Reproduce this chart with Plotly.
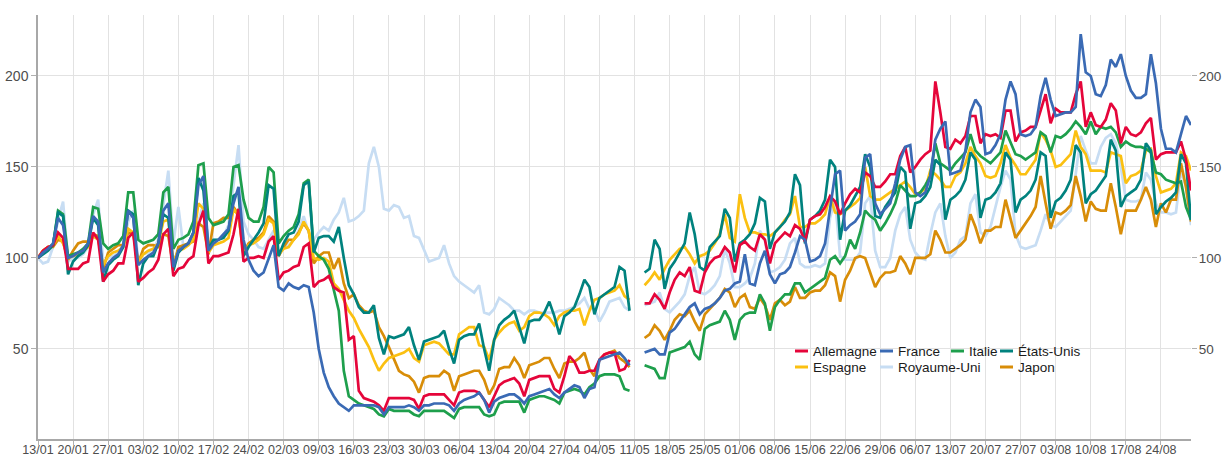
import pandas as pd
import plotly.graph_objects as go

N = None
dates = pd.date_range("2020-01-13", "2020-08-30", freq="D")

allemagne = [
    100,104,106,107,114,111,94,  94,94,97,98,114,110,87,  91,93,97,97,111,114,87,
    89,92,94,99,113,116,90,  94,95,99,101,118,126,97,  101,101,102,103,113,127,98,
    100,100,101,100,109,112,88,  92,93,95,96,106,108,84,  87,88,90,84,82,81,55,
    57,27,23,22,21,19,16,  23,23,23,23,23,22,17,  24,25,25,25,25,22,19,
    26,27,27,27,26,22,18,  24,30,32,33,34,31,24,  33,34,35,35,35,28,26,
    35,46,43,37,37,38,38,  44,47,48,48,38,39,44,  N,N,75,75,80,77,72,
    81,88,92,90,95,82,81,  92,97,100,101,106,103,92,  107,109,106,104,113,110,97,
    108,111,114,112,118,116,109,  121,123,124,128,134,131,124,  130,135,138,136,147,145,139,
    139,142,146,146,156,161,147,  150,154,157,159,197,180,161,  160,165,163,167,178,178,163,
    168,167,168,166,181,181,164,  169,170,172,172,181,190,174,  182,180,180,180,190,197,172,
    180,173,172,176,185,181,163,  172,168,167,169,174,177,154,  157,158,158,158,164,154,137,
]

france = [
    100,103,105,108,122,118,100,  101,103,104,108,123,120,92,  97,100,102,107,126,122,96,
    99,101,103,108,126,130,95,  104,106,108,114,140,145,104,  108,110,113,116,130,139,110,
    99,93,90,92,100,107,84,  82,86,84,83,85,84,70,  50,37,29,24,20,18,16,
    19,19,19,19,19,18,14,  18,18,18,18,19,18,16,  19,19,20,20,20,19,16,
    20,22,23,24,26,22,15,  21,23,24,25,25,23,20,  24,25,26,27,28,25,23,
    26,28,30,29,23,28,29,  44,45,46,47,48,45,41,  N,N,48,49,50,47,47,
    59,61,65,69,73,75,69,  72,73,75,78,82,83,86,  87,102,86,85,97,104,91,
    86,91,92,95,103,112,110,  98,99,101,108,128,146,148,  115,118,120,124,155,157,130,
    124,127,130,141,154,161,162,  136,134,136,145,165,171,175,  146,147,148,159,180,187,183,
    157,158,162,168,187,197,190,  168,167,168,172,189,199,187,  178,179,180,180,183,223,202,
    200,190,189,195,209,205,212,  200,192,188,188,190,212,196,  171,160,160,158,168,178,173,
]

italie = [
    100,103,105,107,126,124,101,  102,103,105,108,128,127,108,  105,107,108,112,136,136,110,
    108,109,110,113,136,139,105,  110,111,113,120,151,152,122,  118,119,120,124,150,151,132,
    122,120,120,128,150,147,108,  112,115,117,124,141,143,104,  101,99,94,82,71,38,24,
    22,20,19,18,17,14,13,  17,16,16,16,16,14,13,  16,16,16,16,16,14,12,
    17,18,18,18,18,14,13,  14,20,21,21,21,21,15,  22,23,24,24,23,22,20,
    26,27,28,27,25,29,31,  35,36,36,36,35,28,27,  N,N,41,40,39,34,34,
    48,49,50,51,54,47,44,  61,63,64,65,71,66,55,  66,69,70,70,80,75,60,
    73,77,80,80,86,86,81,  83,85,87,89,99,101,97,  101,110,105,114,126,123,121,
    115,119,124,130,140,137,134,  134,136,140,145,163,152,150,  148,152,155,158,168,159,156,
    154,152,155,158,170,163,157,  156,154,156,158,169,167,158,  167,166,168,171,175,172,168,
    175,168,172,171,172,169,161,  164,162,161,161,160,158,147,  146,143,142,141,142,128,121,
]

etats_unis = [
    100,102,104,107,125,123,91,  98,101,103,107,122,118,87,  96,99,101,106,126,124,85,
    97,101,101,108,124,122,93,  103,106,108,114,144,137,105,  110,110,111,115,134,136,101,
    106,110,114,119,140,138,101,  108,113,114,120,140,142,103,  111,112,112,109,117,100,85,
    80,73,70,70,74,56,47,  57,56,57,58,62,52,44,  54,55,56,57,60,50,42,
    55,57,58,58,64,50,38,  55,63,66,68,71,62,53,  65,66,66,70,76,68,58,
    68,70,73,80,88,84,69,  78,80,82,84,95,93,71,  N,N,92,94,110,105,83,
    94,98,103,108,125,113,95,  93,106,109,112,127,122,98,  108,110,113,119,133,131,105,
    114,117,120,125,146,140,108,  121,123,126,132,154,150,110,  126,129,134,139,157,150,123,
    122,128,132,136,150,147,116,  130,131,134,139,154,151,121,  132,134,137,143,158,154,122,
    132,133,136,141,158,154,125,  132,134,137,143,158,156,122,  131,133,137,143,162,158,130,
    135,137,141,145,165,159,128,  134,136,138,143,163,159,124,  128,131,133,136,157,152,121,
]

espagne = [
    100,104,106,107,112,108,100,  101,102,104,106,112,110,96,  101,103,104,106,116,114,98,
    102,104,105,108,120,121,98,  104,105,107,110,130,127,103,  107,108,109,111,127,123,102,
    107,108,110,113,121,119,102,  105,106,110,113,120,115,100,  99,100,98,86,83,77,71,
    67,61,56,51,44,38,42,  45,46,47,48,50,45,43,  52,53,54,53,50,47,47,
    58,60,62,62,52,51,44,  55,59,62,64,65,60,62,  68,70,70,69,67,63,68,
    70,71,71,72,63,71,77,  78,80,81,82,85,79,77,  N,N,85,88,92,88,94,
    99,102,105,106,102,97,101,  102,104,108,113,124,111,109,  135,122,114,114,113,113,112,
    114,117,121,124,134,117,117,  119,119,121,124,134,125,124,  126,128,130,133,150,134,132,
    132,134,136,138,140,142,139,  135,136,138,148,146,143,139,  139,145,147,152,161,156,152,
    145,144,145,152,162,155,151,  146,146,150,154,169,165,159,  150,151,154,157,170,161,157,
    148,148,148,147,158,157,156,  141,145,146,148,159,160,145,  136,137,138,141,158,156,148,
]

royaume_uni = [
    100,97,98,106,121,131,98,  100,100,102,106,124,132,98,  100,101,103,107,120,126,98,
    102,103,105,110,130,148,108,  128,106,108,110,120,130,102,  110,110,112,118,140,162,120,
    113,110,106,105,110,115,103,  106,107,110,115,123,114,110,  114,117,115,121,125,133,120,
    121,123,126,152,161,150,127,  126,129,128,122,123,112,111,  104,98,99,100,107,97,90,
    87,85,83,81,85,70,69,  72,78,76,74,71,71,69,  71,71,70,70,70,70,71,
    71,72,73,75,78,72,72,  65,70,76,77,78,73,71,  N,N,74,75,76,81,72,
    70,73,76,80,90,95,81,  80,82,85,90,105,97,84,  84,86,89,97,115,110,92,
    93,95,99,108,111,97,95,  95,96,95,97,122,132,101,  99,99,99,103,130,134,104,
    95,95,100,115,124,128,110,  103,100,99,113,125,130,112,  100,103,110,112,130,135,114,
    112,117,128,139,148,143,113,  106,105,106,107,115,124,118,  117,120,123,126,146,167,159,
    152,152,161,166,168,163,150,  132,131,131,132,147,143,130,  125,125,124,125,148,139,118,
]

japon = [
    100,104,106,106,110,109,99,  104,108,109,109,113,112,94,  103,105,107,107,114,113,97,
    105,107,107,106,113,112,95,  106,107,108,109,119,117,102,  119,120,122,122,128,124,103,
    108,110,111,114,123,120,101,  106,110,110,114,119,115,97,  101,103,103,94,100,86,78,
    80,74,71,70,71,62,57,  51,44,38,36,35,32,26,  34,35,35,35,38,36,27,
    35,36,37,38,38,33,25,  30,39,40,40,45,41,34,  41,42,43,45,45,39,34,
    42,43,43,45,48,39,35,  44,47,48,49,45,43,40,  N,N,56,58,63,60,55,
    60,66,69,68,71,65,60,  69,72,75,78,83,81,73,  78,80,73,72,78,74,66,
    75,77,74,76,84,78,78,  81,82,82,85,92,90,76,  88,93,100,101,100,92,84,
    89,92,92,93,101,97,91,  100,100,100,102,115,110,103,  103,105,107,110,124,117,108,
    115,115,117,117,132,122,111,  115,119,123,128,145,130,116,  125,124,126,129,145,134,120,
    131,127,126,126,141,128,113,  126,126,126,132,139,132,117,  130,125,132,132,152,139,120,
]

series_names = ["Allemagne", "France", "Italie", "États-Unis",
                "Espagne", "Royaume-Uni", "Japon"]
series_values = [allemagne, france, italie, etats_unis,
                 espagne, royaume_uni, japon]
series_colors = ["#E5053A", "#3A6AB4", "#1E9F4C", "#00827E",
                 "#FBC011", "#C7DDF3", "#D88D08"]
y_ticks = [50, 100, 150, 200]

draw_order = ["Royaume-Uni", "Japon", "Espagne", "Italie",
              "États-Unis", "Allemagne", "France"]

fig = go.Figure()
for name in draw_order:
    i = series_names.index(name)
    fig.add_trace(go.Scatter(
        x=dates, y=series_values[i], mode="lines", name=name,
        line=dict(color=series_colors[i], width=2.7),
        connectgaps=False, showlegend=False))

# invisible trace so the right-hand axis is drawn
fig.add_trace(go.Scatter(x=dates[:1], y=[100], yaxis="y2", mode="markers",
                         marker=dict(opacity=0), showlegend=False,
                         hoverinfo="skip"))

FONT = "Liberation Sans, Arial, sans-serif"
W, H = 1222, 457
ML, MR, MT, MB = 38, 31, 15, 18
PW, PH = W - ML - MR, H - MT - MB

def xp(px):
    return (px - ML) / PW

def yp(py):
    return (H - MB - py) / PH

axis_common = dict(
    showgrid=True, gridcolor="#E2E2E2", gridwidth=1, zeroline=False,
    ticks="outside", ticklen=5, tickcolor="#B0B0B0", automargin=False,
    tickfont=dict(family=FONT, size=14, color="#4D4D4D"),
)

fig.update_layout(
    width=W, height=H,
    margin=dict(l=ML, r=MR, t=MT, b=MB, pad=0),
    plot_bgcolor="white", paper_bgcolor="white",
    template="none",
    showlegend=False,
    xaxis=dict(
        type="date", range=["2020-01-13", "2020-08-30"],
        tick0="2020-01-13", dtick=7 * 86400000, tickformat="%d/%m",
        tickangle=0, showline=True, linecolor="#A8A8A8", linewidth=1.5,
        showgrid=True, gridcolor="#E2E2E2", gridwidth=1, zeroline=False,
        ticks="outside", ticklen=4, tickcolor="#B0B0B0", automargin=False,
        ticklabelstandoff=-6,
        tickfont=dict(family=FONT, size=12.5, color="#4D4D4D"),
    ),
    yaxis=dict(range=[0.5, 233.5], tickmode="array", tickvals=y_ticks,
               showline=True, linecolor="#A8A8A8", linewidth=1.5,
               **axis_common),
    yaxis2=dict(range=[0.5, 233.5], tickmode="array", tickvals=y_ticks,
                overlaying="y", side="right", showline=False,
                ticklabelstandoff=-1,
                **{**axis_common, "showgrid": False,
                   "tickfont": dict(family=FONT, size=13.5, color="#4D4D4D")}),
)

# legend laid out like the reference (two rows, aligned columns)
legend_layout = {
    "Allemagne": (795, 351), "France": (880, 351), "Italie": (951, 351),
    "États-Unis": (1000, 351), "Espagne": (795, 367),
    "Royaume-Uni": (880, 367), "Japon": (1000, 367),
}
for name, (lx, ly) in legend_layout.items():
    color = series_colors[series_names.index(name)]
    fig.add_shape(type="line", xref="paper", yref="paper",
                  x0=xp(lx), x1=xp(lx + 13), y0=yp(ly), y1=yp(ly),
                  line=dict(color=color, width=3))
    fig.add_annotation(xref="paper", yref="paper", x=xp(lx + 16), y=yp(ly),
                       text=name, showarrow=False, xanchor="left",
                       yanchor="middle",
                       font=dict(family=FONT, size=13.5, color="#1A1A1A"))

fig.write_html(
    "out.html",
    config={"displayModeBar": False},
    post_script="document.body.style.margin='0';"
                "document.body.style.overflow='hidden';",
)
